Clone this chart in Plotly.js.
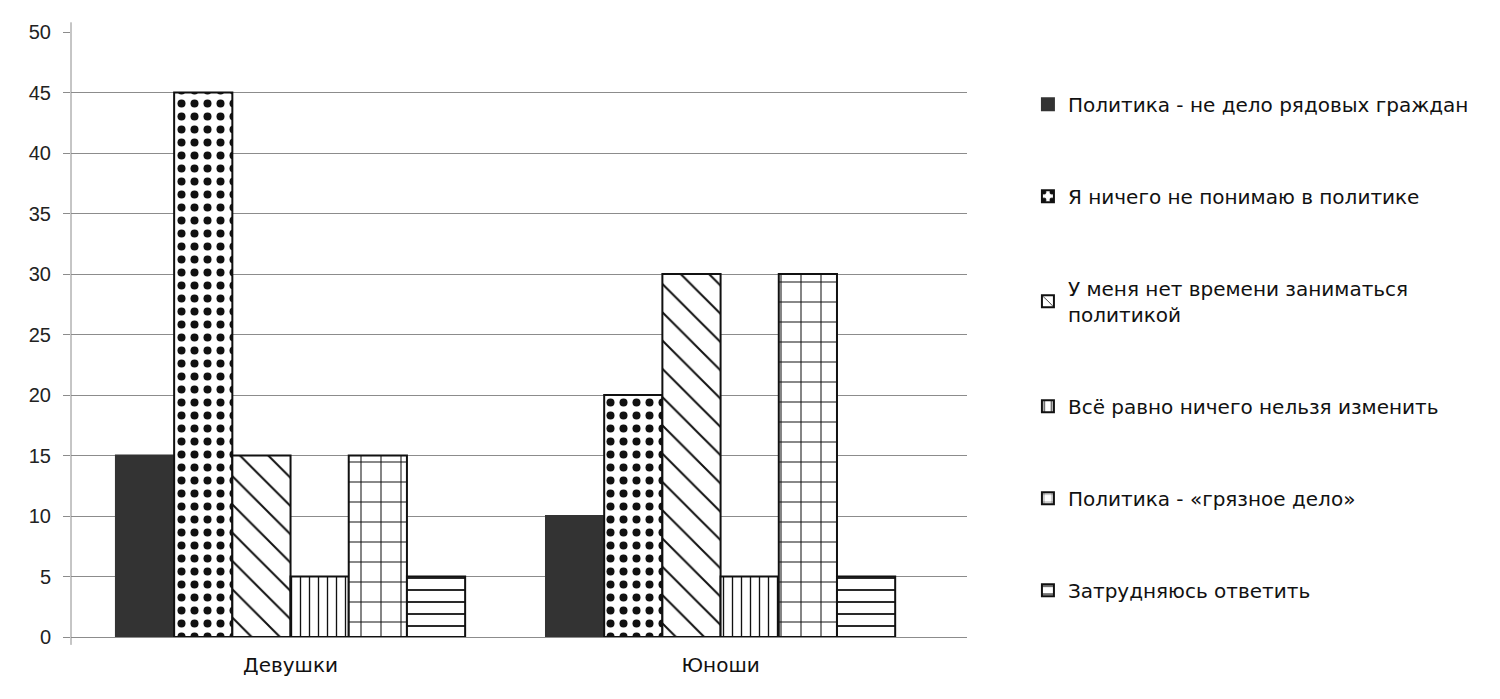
<!DOCTYPE html>
<html>
<head>
<meta charset="utf-8">
<script src="https://cdn.plot.ly/plotly-3.0.1.min.js"></script>
<style>
  body { margin: 0; background: #fff; }
  #chart { width: 1500px; height: 699px; }
</style>
</head>
<body>
<div id="chart"></div>
<script>
const groups = ["Девушки", "Юноши"];
const seriesNames = [
  "Политика - не дело рядовых граждан",
  "Я ничего не понимаю в политике",
  "У меня нет времени заниматься<br>политикой",
  "Всё равно ничего нельзя изменить",
  "Политика - «грязное дело»",
  "Затрудняюсь ответить"
];
const notBusiness = [15, 10];
const dontUnderstand = [45, 20];
const noTime = [15, 30];
const cantChange = [5, 5];
const dirtyBusiness = [15, 30];
const hardToSay = [5, 5];
const yTicks = [0, 5, 10, 15, 20, 25, 30, 35, 40, 45, 50];

const values = [notBusiness, dontUnderstand, noTime, cantChange, dirtyBusiness, hardToSay];
const patterns = [
  { shape: "", bgcolor: "#333333" },
  { shape: ".", fgcolor: "#111", bgcolor: "#fff", size: 13, solidity: 0.3 },
  { shape: "\\", fgcolor: "#111", bgcolor: "#fff", size: 20, solidity: 0.1 },
  { shape: "|", fgcolor: "#111", bgcolor: "#fff", size: 9, solidity: 0.15 },
  { shape: "+", fgcolor: "#111", bgcolor: "#fff", size: 20, solidity: 0.1 },
  { shape: "-", fgcolor: "#111", bgcolor: "#fff", size: 12, solidity: 0.15 }
];

const traces = values.map((v, i) => ({
  type: "bar",
  x: groups,
  y: v,
  name: seriesNames[i],
  legendgroup: "g" + i,
  marker: {
    color: i === 0 ? "#333333" : "#ffffff",
    line: { color: i === 0 ? "#333333" : "#111111", width: 2 },
    pattern: patterns[i]
  },
  hoverinfo: "x+y+name"
}));

const layout = {
  width: 1500,
  height: 699,
  margin: { l: 71, r: 533, t: 32, b: 62 },
  paper_bgcolor: "#fff",
  plot_bgcolor: "#fff",
  barmode: "group",
  bargap: 0.188,
  bargroupgap: 0,
  font: { family: "Liberation Sans, Arial, sans-serif", color: "#222" },
  xaxis: {
    range: [-0.5105, 1.573],
    showgrid: false,
    showline: false,
    ticks: "",
    ticklabelstandoff: 14,
    tickfont: { family: "DejaVu Sans, sans-serif", size: 20, color: "#111" },
    zeroline: false
  },
  yaxis: {
    range: [0, 50],
    tickvals: yTicks,
    showgrid: true,
    gridcolor: "#8c8c8c",
    gridwidth: 1,
    ticks: "outside",
    ticklen: 7,
    tickcolor: "#8c8c8c",
    ticklabelstandoff: 8,
    tickfont: { size: 20 },
    zeroline: true,
    zerolinecolor: "#8c8c8c",
    zerolinewidth: 1,
    showline: false
  },
  shapes: [{
    type: "line", xref: "paper", yref: "paper",
    x0: 0, x1: 0, y0: -0.013, y1: 1.016,
    line: { color: "#8c8c8c", width: 1 }
  }],
  legend: {
    x: 1.068, xanchor: "left",
    y: 0.913, yanchor: "top",
    traceorder: "grouped",
    tracegroupgap: 63,
    itemwidth: 30,
    font: { family: "DejaVu Sans, sans-serif", size: 20, color: "#111" },
    bgcolor: "rgba(0,0,0,0)"
  },
  showlegend: true
};

Plotly.newPlot("chart", traces, layout, { displayModeBar: false, staticPlot: true });
</script>
</body>
</html>
